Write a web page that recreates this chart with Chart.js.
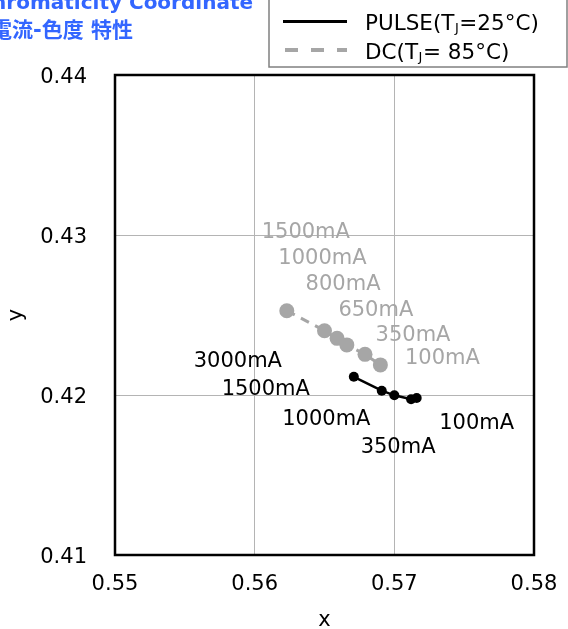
<!DOCTYPE html>
<html><head><meta charset="utf-8">
<script src="https://cdn.jsdelivr.net/npm/chart.js@4"></script>
<style>html,body{margin:0;padding:0;background:#fff}#wrap{width:568px;height:629px;position:relative}</style>
</head><body><div id="wrap"><canvas id="c" width="568" height="629"></canvas></div>
<script>
// ---- data ----
const pulseX = [0.5671, 0.5691, 0.5700, 0.5712, 0.5716];
const pulseY = [0.42114, 0.42027, 0.41998, 0.41973, 0.41981];
const pulseLabels = ['3000mA', '1500mA', '1000mA', '350mA', '100mA'];
const dcX = [0.5623, 0.5650, 0.5659, 0.5666, 0.5679, 0.5690];
const dcY = [0.42527, 0.42402, 0.42354, 0.42313, 0.42254, 0.42188];
const dcLabels = ['1500mA', '1000mA', '800mA', '650mA', '350mA', '100mA'];
const xTicks = [0.55, 0.56, 0.57, 0.58];
const yTicks = [0.41, 0.42, 0.43, 0.44];
const titleLines = ['Chromaticity Coordinate', '電流-色度 特性'];
const seriesNames = [['PULSE(T', 'J', '=25°C)'], ['DC(T', 'J', '= 85°C)']];

// ---- styles ----
const FONT = "'DejaVu Sans', Verdana, 'Noto Sans CJK JP', sans-serif";
const BLACK = '#000000';
const GRAY = '#a6a6a6';
const pulseLabelOffsets = [[-116, -15], [-116, -1], [-68, 24], [-13, 48], [60, 26]];
const dcLabelOffsets = [[19, -78], [-2, -72], [6, -54], [29, -34], [48, -19], [62, -6]];

Chart.defaults.font.family = FONT;
Chart.defaults.color = '#000';

const toPts = (xs, ys) => xs.map((x, i) => ({x: x, y: ys[i]}));

const decor = {
  id: 'decor',
  afterDatasetsDraw(chart) {
    const ctx = chart.ctx;
    const a = chart.chartArea;
    const xs = chart.scales.x, ys = chart.scales.y;
    ctx.save();
    // plot border
    ctx.strokeStyle = '#000';
    ctx.lineWidth = 2.5;
    ctx.strokeRect(a.left, a.top, a.right - a.left, a.bottom - a.top);
    // point labels
    ctx.font = '21px ' + FONT;
    ctx.textAlign = 'center';
    ctx.textBaseline = 'middle';
    const drawLabels = (xArr, yArr, labels, offs, color) => {
      ctx.fillStyle = color;
      labels.forEach((t, i) => {
        const px = xs.getPixelForValue(xArr[i]);
        const py = ys.getPixelForValue(yArr[i]);
        ctx.fillText(t, px + offs[i][0], py + offs[i][1]);
      });
    };
    drawLabels(dcX, dcY, dcLabels, dcLabelOffsets, GRAY);
    drawLabels(pulseX, pulseY, pulseLabels, pulseLabelOffsets, BLACK);

    // title (partly off canvas like the reference)
    ctx.fillStyle = '#3366ff';
    ctx.textAlign = 'right';
    ctx.textBaseline = 'alphabetic';
    ctx.font = 'bold 20px ' + FONT;
    ctx.fillText(titleLines[0], 253, 9);
    ctx.font = 'bold 21px ' + FONT;
    ctx.fillText(titleLines[1], 133, 37);

    // legend
    ctx.fillStyle = '#fff';
    ctx.fillRect(269, -2, 298, 69);
    ctx.strokeStyle = '#808080';
    ctx.lineWidth = 1.5;
    ctx.strokeRect(269, -2, 298, 69);
    ctx.lineWidth = 3;
    ctx.strokeStyle = BLACK;
    ctx.setLineDash([]);
    ctx.beginPath(); ctx.moveTo(283, 21.5); ctx.lineTo(347, 21.5); ctx.stroke();
    ctx.strokeStyle = GRAY;
    ctx.lineWidth = 4;
    ctx.setLineDash([13, 13]);
    ctx.beginPath(); ctx.moveTo(285, 50); ctx.lineTo(347, 50); ctx.stroke();
    ctx.setLineDash([]);
    ctx.textAlign = 'left';
    ctx.fillStyle = '#000';
    const rows = [30, 58.5];
    seriesNames.forEach((parts, r) => {
      let x = 365;
      ctx.font = '21.5px ' + FONT;
      ctx.fillText(parts[0], x, rows[r]);
      x += ctx.measureText(parts[0]).width;
      ctx.font = '13px ' + FONT;
      ctx.fillText(parts[1], x + 0.5, rows[r] + 2);
      x += ctx.measureText(parts[1]).width + 1;
      ctx.font = '21.5px ' + FONT;
      ctx.fillText(parts[2], x, rows[r]);
    });
    ctx.restore();
  }
};

new Chart(document.getElementById('c'), {
  type: 'scatter',
  data: {
    datasets: [
      {
        label: 'PULSE',
        data: toPts(pulseX, pulseY),
        showLine: true,
        borderColor: BLACK,
        backgroundColor: BLACK,
        borderWidth: 2.5,
        pointRadius: 5,
        pointBorderWidth: 0,
        pointHoverRadius: 5
      },
      {
        label: 'DC',
        data: toPts(dcX, dcY),
        showLine: true,
        borderColor: GRAY,
        backgroundColor: GRAY,
        borderWidth: 3,
        borderDash: [9, 7],
        pointRadius: 7.5,
        pointBorderWidth: 0,
        pointHoverRadius: 7.5
      }
    ]
  },
  options: {
    responsive: false,
    animation: false,
    devicePixelRatio: 1,
    layout: {padding: {top: 75, right: 34, left: 0, bottom: 0}},
    plugins: {legend: {display: false}, tooltip: {enabled: false}, title: {display: false}},
    scales: {
      x: {
        type: 'linear', min: 0.55, max: 0.58,
        afterBuildTicks: s => { s.ticks = xTicks.map(v => ({value: v})); },
        afterFit: s => { s.height = 74; s.paddingLeft = 0; s.paddingRight = 0; },
        grid: {color: '#b4b4b4', lineWidth: 1, drawTicks: false},
        border: {display: false},
        ticks: {font: {size: 21}, color: '#000', padding: 17, maxRotation: 0,
                callback: v => v.toFixed(2)},
        title: {display: true, text: 'x', font: {size: 21, lineHeight: 1}, color: '#000',
                padding: {top: 0, bottom: -2}}
      },
      y: {
        type: 'linear', min: 0.41, max: 0.44,
        afterBuildTicks: s => { s.ticks = yTicks.map(v => ({value: v})); },
        afterFit: s => { s.width = 115; s.paddingTop = 0; s.paddingBottom = 0; },
        grid: {color: '#b4b4b4', lineWidth: 1, drawTicks: false},
        border: {display: false},
        ticks: {font: {size: 21}, color: '#000', padding: 28, labelOffset: 3,
                callback: v => v.toFixed(2)},
        title: {display: true, text: 'y', font: {size: 21, lineHeight: 1}, color: '#000',
                padding: {top: 6, bottom: 0}}
      }
    }
  },
  plugins: [decor]
});
</script>
</body></html>
